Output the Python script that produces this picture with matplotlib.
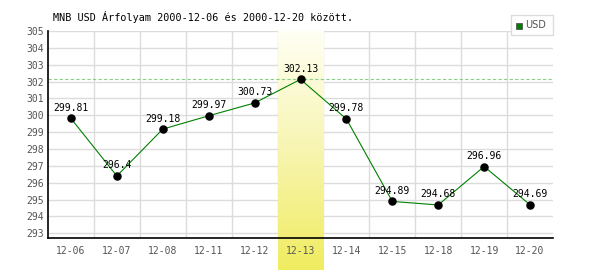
import numpy as np
import matplotlib.pyplot as plt
from matplotlib.colors import LinearSegmentedColormap

dates = ['12-06', '12-07', '12-08', '12-11', '12-12', '12-13',
         '12-14', '12-15', '12-18', '12-19', '12-20']
usd = [299.81, 296.4, 299.18, 299.97, 300.73, 302.13,
       299.78, 294.89, 294.68, 296.96, 294.69]
labels = ['299.81', '296.4', '299.18', '299.97', '300.73', '302.13',
          '299.78', '294.89', '294.68', '296.96', '294.69']
title = 'MNB USD Árfolyam 2000-12-06 és 2000-12-20 között.'

plt.rcParams['font.family'] = ['DejaVu Sans Mono', 'DejaVu Sans']
fig = plt.figure(figsize=(6, 2.7), dpi=100)
ax = fig.add_axes([48/600, 32/270, 505/600, 207/270])

x = np.arange(len(dates))
ymin, ymax = 292.72, 305.0

# highlighted day (max value), gradient band running below the axis
imax = int(np.argmax(usd))
cmap = LinearSegmentedColormap.from_list('hl', ['#fffff4', '#f7f5b0', '#f0ec60'])
grad = np.linspace(0, 1, 256).reshape(-1, 1)
ybot = ymin - 32 / 16.8
ax.imshow(grad, cmap=cmap, aspect='auto', origin='upper',
          extent=(imax - 0.5, imax + 0.5, ybot, ymax), clip_on=False, zorder=1)
ax.set_xlim(-0.5, len(dates) - 0.5)
ax.set_ylim(ymin, ymax)

# grid
for yv in range(293, 306):
    ax.axhline(yv, color='#dcdcdc', lw=1, zorder=0)
for xv in np.arange(0.5, len(dates) - 0.5):
    ax.axvline(xv, color='#dcdcdc', lw=1, zorder=0)

ax.axhline(max(usd), color='#88d088', lw=0.8, ls=(0, (3, 2)), zorder=2)

ax.plot(x, usd, color='green', lw=0.8, zorder=3)
ax.scatter(x, usd, s=26, color='black', zorder=4)
for xi, yi, t in zip(x, usd, labels):
    ax.annotate(t, (xi, yi), xytext=(0, 4), textcoords='offset points',
                ha='center', va='bottom', fontsize=7, color='black', zorder=5)

for s in ['top', 'right']:
    ax.spines[s].set_visible(False)
ax.spines['left'].set_linewidth(1.2)
ax.spines['bottom'].set_linewidth(1.2)
ax.spines['bottom'].set_zorder(6)

ax.set_xticks(x)
ax.set_xticklabels(dates)
ax.set_yticks(range(293, 306))
ax.tick_params(length=0, labelsize=7, labelcolor='#555555', pad=6)
ax.tick_params(axis='y', pad=3)

fig.text(53/600, 1 - 17/270, title, fontsize=7.3, color='black', va='center')

# legend box
leg = plt.Rectangle((511/600, 1 - 35/270), 42/600, 20/270, transform=fig.transFigure,
                    facecolor='white', edgecolor='#dcdcdc', lw=1)
fig.patches.append(leg)
sq = plt.Rectangle((516/600, 1 - 29/270), 6/600, 6/270, transform=fig.transFigure,
                   facecolor='green', edgecolor='#555555', lw=0.6)
fig.patches.append(sq)
fig.text(525/600, 1 - 25/270, 'USD', fontsize=7, color='#555555', va='center',
         family='DejaVu Sans')

fig.savefig('out.png', dpi=100)
